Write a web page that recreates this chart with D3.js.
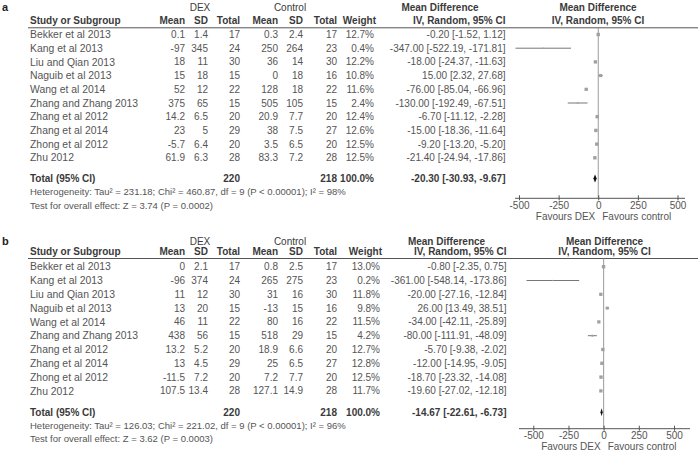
<!DOCTYPE html>
<html>
<head>
<meta charset="utf-8">
<script src="https://cdn.jsdelivr.net/npm/d3@7"></script>
<style>
  body { margin: 0; background: #fff; }
  svg { display: block; font-family: "Liberation Sans", Arial, sans-serif; }
  text { font-size: 10px; fill: #555; }
  .nm { font-size: 10.4px; }
  .b { font-weight: bold; fill: #3a3a3a; }
  .h { fill: #3a3a3a; }
  .foot { font-size: 9.5px; }
  .lab { font-size: 11px; font-weight: bold; fill: #222; }
</style>
</head>
<body>
<svg id="chart" width="700" height="455"></svg>
<script>
// studies, same in both panels
const studies = ["Bekker et al 2013", "Kang et al 2013", "Liu and Qian 2013", "Naguib et al 2013",
  "Wang et al 2014", "Zhang and Zhang 2013", "Zhang et al 2012", "Zhang et al 2014",
  "Zhong et al 2012", "Zhu 2012"];
const ticks = [-500, -250, 0, 250, 500];

// panel a
const aDexMean = ["0.1", "-97", "18", "15", "52", "375", "14.2", "23", "-5.7", "61.9"];
const aDexSD = ["1.4", "345", "11", "18", "12", "65", "6.5", "5", "6.4", "6.3"];
const aDexN = [17, 24, 30, 15, 22, 15, 20, 29, 20, 28];
const aCtlMean = ["0.3", "250", "36", "0", "128", "505", "20.9", "38", "3.5", "83.3"];
const aCtlSD = ["2.4", "264", "14", "18", "18", "105", "7.7", "7.5", "6.5", "7.2"];
const aCtlN = [17, 23, 30, 16, 22, 15, 20, 27, 20, 28];
const aWeight = [12.7, 0.4, 12.2, 10.8, 11.6, 2.4, 12.4, 12.6, 12.5, 12.5];
const aMD = [-0.20, -347.00, -18.00, 15.00, -76.00, -130.00, -6.70, -15.00, -9.20, -21.40];
const aLo = [-1.52, -522.19, -24.37, 2.32, -85.04, -192.49, -11.12, -18.36, -13.20, -24.94];
const aHi = [1.12, -171.81, -11.63, 27.68, -66.96, -67.51, -2.28, -11.64, -5.20, -17.86];
const aTotal = { n1: 220, n2: 218, md: -20.30, lo: -30.93, hi: -9.67 };
const aHet = "Heterogeneity: Tau² = 231.18; Chi² = 460.87, df = 9 (P < 0.00001); I² = 98%";
const aTest = "Test for overall effect: Z = 3.74 (P = 0.0002)";

// panel b
const bDexMean = ["0", "-96", "11", "13", "46", "438", "13.2", "13", "-11.5", "107.5"];
const bDexSD = ["2.1", "374", "12", "20", "11", "56", "5.2", "4.5", "7.2", "13.4"];
const bDexN = [17, 24, 30, 15, 22, 15, 20, 29, 20, 28];
const bCtlMean = ["0.8", "265", "31", "-13", "80", "518", "18.9", "25", "7.2", "127.1"];
const bCtlSD = ["2.5", "275", "16", "15", "16", "29", "6.6", "6.5", "7.7", "14.9"];
const bCtlN = [17, 23, 30, 16, 22, 15, 20, 27, 20, 28];
const bWeight = [13.0, 0.2, 11.8, 9.8, 11.5, 4.2, 12.7, 12.8, 12.5, 11.7];
const bMD = [-0.80, -361.00, -20.00, 26.00, -34.00, -80.00, -5.70, -12.00, -18.70, -19.60];
const bLo = [-2.35, -548.14, -27.16, 13.49, -42.11, -111.91, -9.38, -14.95, -23.32, -27.02];
const bHi = [0.75, -173.86, -12.84, 38.51, -25.89, -48.09, -2.02, -9.05, -14.08, -12.18];
const bTotal = { n1: 220, n2: 218, md: -14.67, lo: -22.61, hi: -6.73 };
const bHet = "Heterogeneity: Tau² = 126.03; Chi² = 221.02, df = 9 (P < 0.00001); I² = 96%";
const bTest = "Test for overall effect: Z = 3.62 (P = 0.0003)";

const svg = d3.select("#chart");
// plain hyphen for minus, like the original
const loc = d3.formatLocale({ decimal: ".", thousands: ",", grouping: [3], currency: ["", ""], minus: "-" });
const f2 = loc.format(".2f");

function panel(p) {
  const g = svg.append("g");
  const rowY = d3.scaleLinear().domain([0, 1]).range([p.row0, p.row0 + p.rowStep]);
  const x = d3.scaleLinear().domain([-500, 500]).range(p.xr);

  const txt = (xx, yy, s, anchor, cls) => g.append("text")
    .attr("x", xx).attr("y", yy).attr("dy", "0.35em")
    .attr("text-anchor", anchor || "start")
    .attr("class", cls || null).text(s);

  // headers
  txt(2, p.h1, p.label, "start", "lab");
  txt(200, p.h1, "DEX", "middle", "h");
  txt(290, p.h1, "Control", "middle", "h");
  txt(p.mdHead, p.h1, "Mean Difference", "middle", "b");
  txt(p.plotHead, p.h1, "Mean Difference", "middle", "b");
  txt(30, p.h2, "Study or Subgroup", "start", "b");
  const cols = [185, 208, 240, 278, 303, 337];
  ["Mean", "SD", "Total", "Mean", "SD", "Total"].forEach((s, i) => txt(cols[i], p.h2, s, "end", "b"));
  txt(p.wCol + 2, p.h2, "Weight", "end", "b");
  txt(p.ciCol, p.h2, "IV, Random, 95% CI", "end", "b");
  txt(p.plotHead, p.h2, "IV, Random, 95% CI", "middle", "b");

  g.append("line").attr("x1", 28).attr("x2", 698)
    .attr("y1", p.line).attr("y2", p.line).attr("stroke", "#555");

  // zero line
  g.append("line").attr("x1", x(0)).attr("x2", x(0))
    .attr("y1", p.line).attr("y2", p.axisY).attr("stroke", "#9a9a9a");

  // table rows
  studies.forEach((s, i) => {
    const y = rowY(i);
    txt(30, y, s, "start", "nm");
    [p.dexMean[i], p.dexSD[i], p.dexN[i], p.ctlMean[i], p.ctlSD[i], p.ctlN[i]]
      .forEach((v, j) => txt(cols[j], y, v, "end"));
    txt(p.wCol, y, p.weight[i].toFixed(1) + "%", "end");
    txt(p.ciCol, y, `${f2(p.md[i])} [${f2(p.lo[i])}, ${f2(p.hi[i])}]`, "end");
  });

  // CI lines + squares
  const clip = v => Math.max(-560, Math.min(560, v));
  g.selectAll("line.ci").data(studies).join("line").attr("class", "ci")
    .attr("x1", (d, i) => x(clip(p.lo[i]))).attr("x2", (d, i) => x(clip(p.hi[i])))
    .attr("y1", (d, i) => rowY(i)).attr("y2", (d, i) => rowY(i))
    .attr("stroke", "#777").attr("stroke-width", 1);
  g.selectAll("rect.sq").data(studies).join("rect").attr("class", "sq")
    .each(function (d, i) {
      const s = Math.max(1.2, Math.sqrt(p.weight[i]) * 0.95);
      d3.select(this).attr("x", x(p.md[i]) - s / 2).attr("y", rowY(i) - s / 2)
        .attr("width", s).attr("height", s);
    })
    .attr("fill", "#a0a0a0");

  // total row
  const t = p.total;
  txt(30, p.totY, "Total (95% CI)", "start", "b");
  txt(240, p.totY, t.n1, "end", "b");
  txt(337, p.totY, t.n2, "end", "b");
  txt(p.wCol, p.totY, "100.0%", "end", "b");
  txt(p.ciCol, p.totY, `${f2(t.md)} [${f2(t.lo)}, ${f2(t.hi)}]`, "end", "b");
  g.append("path")
    .attr("d", `M${x(t.lo)},${p.totY} L${x(t.md)},${p.totY - 4} L${x(t.hi)},${p.totY} L${x(t.md)},${p.totY + 4}Z`)
    .attr("fill", "#111");

  txt(30, p.totY + 13.4, p.het, "start", "foot");
  txt(30, p.totY + 26.8, p.test, "start", "foot");

  // axis
  const ax = g.append("g").attr("transform", `translate(0,${p.axisY})`)
    .call(d3.axisBottom(x).tickValues(ticks).tickFormat(d => String(d)).tickSize(3).tickSizeOuter(0));
  ax.select(".domain").attr("d", `M${p.axExt[0]},0H${p.axExt[1]}`).attr("stroke", "#555");
  ax.selectAll(".tick line").attr("y1", -3).attr("y2", 2).attr("stroke", "#555");
  ax.selectAll(".tick text").attr("y", 7).attr("dy", "0.35em").attr("fill", "#555")
    .style("font-size", "10px").style("font-family", '"Liberation Sans", Arial, sans-serif');

  txt(x(0) - 3, p.axisY + 18, "Favours DEX", "end");
  txt(x(0) + 4, p.axisY + 18, "Favours control", "start");
}

panel({
  label: "a", h1: 7, h2: 20.7, line: 27.8, row0: 34.5, rowStep: 13.7, totY: 178.4,
  xr: [519, 677.5], axisY: 198.3, axExt: [515, 685],
  wCol: 374, ciCol: 505.5, mdHead: 440, plotHead: 598,
  dexMean: aDexMean, dexSD: aDexSD, dexN: aDexN, ctlMean: aCtlMean, ctlSD: aCtlSD, ctlN: aCtlN,
  weight: aWeight, md: aMD, lo: aLo, hi: aHi, total: aTotal, het: aHet, test: aTest
});

panel({
  label: "b", h1: 241, h2: 251.7, line: 258.5, row0: 266.7, rowStep: 13.8, totY: 412.3,
  xr: [533.3, 674], axisY: 428.7, axExt: [519, 690],
  wCol: 380, ciCol: 506.5, mdHead: 446.5, plotHead: 604.5,
  dexMean: bDexMean, dexSD: bDexSD, dexN: bDexN, ctlMean: bCtlMean, ctlSD: bCtlSD, ctlN: bCtlN,
  weight: bWeight, md: bMD, lo: bLo, hi: bHi, total: bTotal, het: bHet, test: bTest
});
</script>
</body>
</html>
